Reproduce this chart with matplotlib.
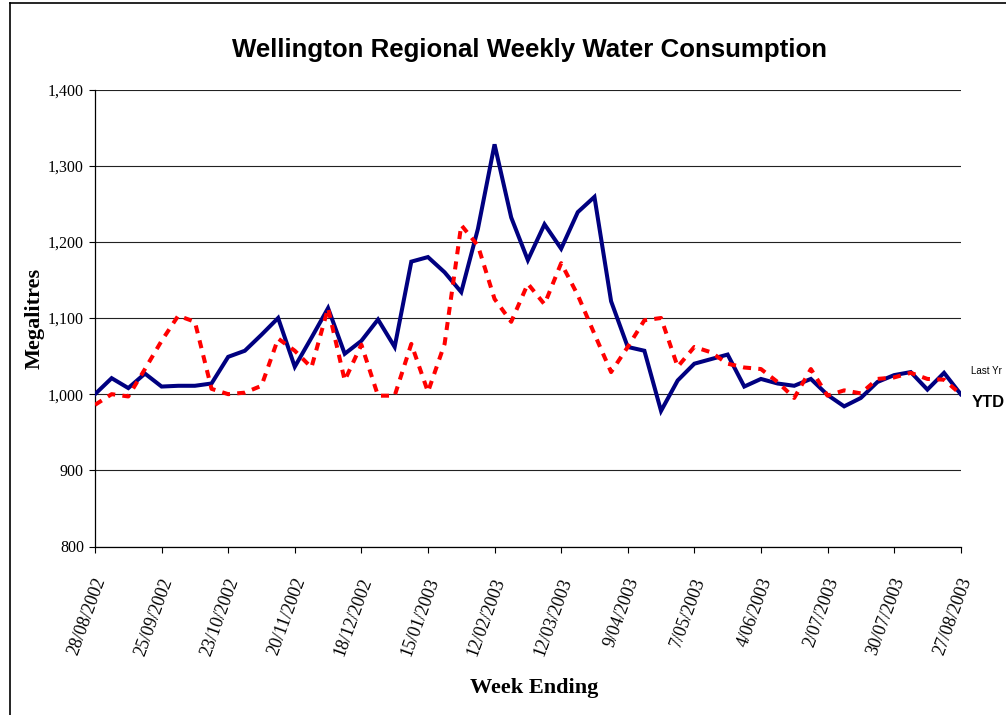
import matplotlib
matplotlib.use("Agg")
import matplotlib.pyplot as plt
import matplotlib.transforms as mtransforms
from matplotlib import font_manager
from matplotlib.lines import Line2D
import numpy as np

# weekly totals, Megalitres
TICK_LABELS = [
    "28/08/2002", "25/09/2002", "23/10/2002", "20/11/2002", "18/12/2002",
    "15/01/2003", "12/02/2003", "12/03/2003", "9/04/2003", "7/05/2003",
    "4/06/2003", "2/07/2003", "30/07/2003", "27/08/2003",
]
YTD = [
    1000, 1021, 1008, 1027, 1010, 1011, 1011, 1014, 1049, 1057,
    1078, 1100, 1036, 1074, 1113, 1053, 1070, 1098, 1062, 1174,
    1180, 1160, 1134, 1217, 1328, 1232, 1176, 1223, 1191, 1239,
    1259, 1122, 1062, 1057, 978, 1018, 1040, 1046, 1052, 1010,
    1020, 1014, 1011, 1020, 999, 984, 995, 1016, 1025, 1029,
    1006, 1028, 1000,
]
LAST_YR = [
    986, 1000, 997, 1033, 1070, 1103, 1095, 1007, 1000, 1002,
    1011, 1073, 1057, 1035, 1113, 1018, 1065, 998, 998, 1066,
    1003, 1066, 1222, 1195, 1125, 1095, 1145, 1118, 1172, 1130,
    1079, 1029, 1062, 1097, 1100, 1036, 1062, 1055, 1040, 1035,
    1033, 1016, 995, 1033, 998, 1005, 1001, 1020, 1022, 1028,
    1020, 1019, 1000,
]

installed = {f.name for f in font_manager.fontManager.ttflist}
TITLE_FONT = "Liberation Sans Narrow" if "Liberation Sans Narrow" in installed else "Liberation Sans"
TITLE_SIZE = 22 if TITLE_FONT == "Liberation Sans Narrow" else 18.6
SERIF = "Liberation Serif"

weeks = np.arange(len(YTD))

fig = plt.figure(figsize=(10.06, 7.15), dpi=100)
ax = fig.add_axes([95 / 1006, 1 - 546.5 / 715, (960.7 - 95) / 1006, (546.5 - 89.5) / 715])

ax.plot(weeks, YTD, color="#000080", lw=2.9, solid_joinstyle="miter", zorder=3)
ax.plot(weeks, LAST_YR, color="#ff0000", lw=2.9, ls=(0, (2.0, 1.8)),
        dash_capstyle="butt", zorder=4)

ax.set_xlim(0, len(YTD) - 1)
ax.set_ylim(800, 1400)
ax.set_yticks(range(800, 1401, 100))
ax.set_yticklabels([f"{v:,}" for v in range(800, 1401, 100)], fontsize=11.5, family=SERIF)
ax.yaxis.grid(True, color="#222222", lw=0.8)
ax.set_axisbelow(True)

ax.set_xticks(weeks[::4])
ax.set_xticklabels(TICK_LABELS, rotation=70, ha="right", va="center",
                   rotation_mode="anchor", fontsize=13, family=SERIF)
ax.tick_params(axis="x", length=4, pad=19, width=0.8)
ax.tick_params(axis="y", length=4, pad=4, width=0.8)
shift = mtransforms.ScaledTranslation(6 / 100, 0, fig.dpi_scale_trans)
for lab in ax.get_xticklabels():
    lab.set_transform(lab.get_transform() + shift)

for side in ("top", "right"):
    ax.spines[side].set_visible(False)
for side in ("left", "bottom"):
    ax.spines[side].set_linewidth(0.9)

ax.set_ylabel("Megalitres", family=SERIF, fontweight="bold", fontsize=16)
ax.yaxis.set_label_coords(-50 / 866, 0.5)
fig.text(534 / 1006, 1 - 688 / 715, "Week Ending", family=SERIF, fontweight="bold",
         fontsize=16, ha="center", va="center")
fig.text(530 / 1006, 1 - 50 / 715, "Wellington Regional Weekly Water Consumption",
         family=TITLE_FONT, fontweight="bold", fontsize=TITLE_SIZE, ha="center", va="center")

# series names at the right end of the lines
ax.text(52.6, 1031, "Last Yr", family="Liberation Sans", fontsize=7, va="center",
        clip_on=False)
ax.text(52.65, 989, "YTD", family="Liberation Sans", fontweight="bold", fontsize=12,
        va="center", clip_on=False)

# chart area border (left and top edges visible)
fig.add_artist(Line2D([9.5 / 1006, 9.5 / 1006], [0, 1 - 2.5 / 715], color="black", lw=1.2))
fig.add_artist(Line2D([9.5 / 1006, 1], [1 - 2.5 / 715, 1 - 2.5 / 715], color="black", lw=1.2))

fig.savefig("out.png", dpi=100)
